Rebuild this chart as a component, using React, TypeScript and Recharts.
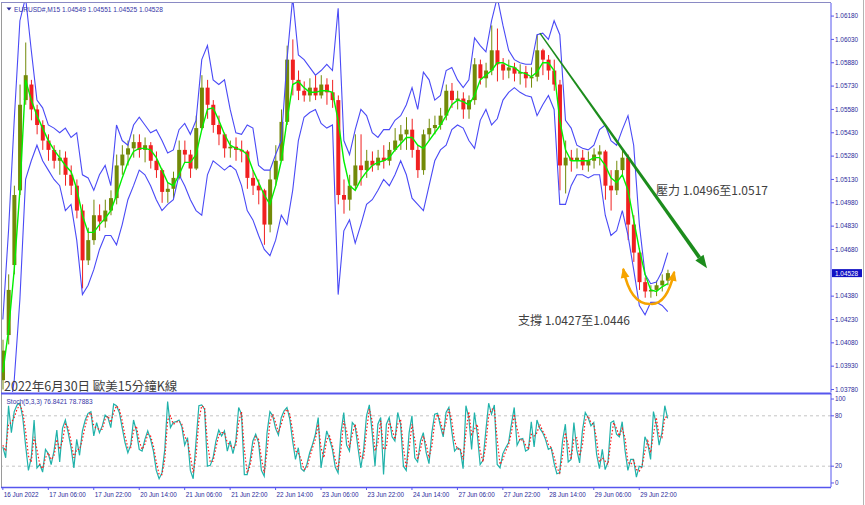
import React from 'react';
import { ComposedChart, Line, Bar, XAxis, YAxis, ReferenceLine } from 'recharts';

// EURUSD M15, sampled every 2 hours
const opens = [
  1.0384, 1.0413, 1.0458, 1.0506, 1.0564, 1.0574, 1.0558, 1.0548, 1.0538, 1.0532,
  1.0525, 1.0527, 1.0516, 1.0509, 1.0493, 1.0461, 1.0474, 1.049, 1.0486, 1.0493,
  1.0501, 1.0522, 1.0529, 1.0533, 1.0537, 1.0532, 1.0535, 1.0525, 1.0519, 1.0505,
  1.0507, 1.0514, 1.0532, 1.0529, 1.052, 1.0546, 1.0572, 1.0561, 1.0548, 1.0542,
  1.0533, 1.0534, 1.0532, 1.0531, 1.0514, 1.0509, 1.0506, 1.0484, 1.0513, 1.0525,
  1.055, 1.059, 1.0577, 1.057, 1.0567, 1.0572, 1.0567, 1.0574, 1.0569, 1.0564,
  1.0503, 1.05, 1.0509, 1.0522, 1.0519, 1.0525, 1.0522, 1.0527, 1.0525, 1.0532,
  1.0538, 1.0542, 1.0545, 1.0532, 1.0519, 1.0542, 1.0546, 1.0548, 1.0554, 1.057,
  1.0564, 1.0565, 1.0558, 1.0564, 1.0587, 1.0578, 1.0583, 1.0596, 1.0587, 1.0583,
  1.0585, 1.0581, 1.0582, 1.0578, 1.0579, 1.0596, 1.059, 1.0583, 1.0574, 1.0522,
  1.0527, 1.0525, 1.0527, 1.0522, 1.0525, 1.0529, 1.0531, 1.0509, 1.0506, 1.0519,
  1.0527, 1.0484, 1.0466, 1.0447, 1.0441, 1.0442, 1.0445, 1.0448,
];
const highs = [
  1.041, 1.0452, 1.0509, 1.0574, 1.0601, 1.0577, 1.0561, 1.0551, 1.0542, 1.0535,
  1.0532, 1.0531, 1.0522, 1.0513, 1.0497, 1.0482, 1.05, 1.0497, 1.05, 1.0506,
  1.0529, 1.0535, 1.0538, 1.0542, 1.0542, 1.054, 1.0537, 1.0531, 1.052, 1.0511,
  1.0518, 1.0538, 1.0538, 1.0532, 1.0554, 1.058, 1.0577, 1.0564, 1.0554, 1.0543,
  1.0538, 1.054, 1.0538, 1.0532, 1.0519, 1.0513, 1.0507, 1.0519, 1.0535, 1.0558,
  1.0599, 1.0603, 1.0583, 1.0576, 1.0578, 1.058, 1.058, 1.0578, 1.0577, 1.0567,
  1.0513, 1.0516, 1.0542, 1.0542, 1.0532, 1.0531, 1.0532, 1.0535, 1.0537, 1.0546,
  1.0548, 1.0553, 1.0552, 1.0535, 1.0545, 1.0552, 1.0554, 1.0559, 1.0574, 1.0575,
  1.057, 1.0569, 1.0567, 1.0591, 1.059, 1.0588, 1.0612, 1.061, 1.0591, 1.059,
  1.0588, 1.0587, 1.0586, 1.0585, 1.0606, 1.0597, 1.0593, 1.059, 1.0577, 1.0538,
  1.0532, 1.0533, 1.0532, 1.0531, 1.0533, 1.0535, 1.0532, 1.0519, 1.0525, 1.0532,
  1.0529, 1.049, 1.0469, 1.045, 1.0445, 1.0448, 1.0452, 1.0455,
];
const lows = [
  1.0378, 1.0407, 1.0452, 1.0503, 1.0561, 1.0551, 1.0542, 1.0532, 1.0525, 1.052,
  1.0516, 1.0509, 1.0503, 1.0488, 1.0443, 1.0458, 1.0471, 1.048, 1.0482, 1.049,
  1.0497, 1.0516, 1.0522, 1.0527, 1.0527, 1.0524, 1.052, 1.0514, 1.0498, 1.0498,
  1.0501, 1.0513, 1.0524, 1.0514, 1.0519, 1.0545, 1.0552, 1.0543, 1.0535, 1.0527,
  1.0527, 1.0525, 1.0524, 1.0507, 1.0503, 1.0497, 1.0471, 1.0479, 1.0509, 1.0525,
  1.0548, 1.0567, 1.0564, 1.0563, 1.0563, 1.0564, 1.0565, 1.0561, 1.0559, 1.0497,
  1.0491, 1.0493, 1.0506, 1.0509, 1.0514, 1.0518, 1.0519, 1.052, 1.0522, 1.0531,
  1.0532, 1.0532, 1.0527, 1.0514, 1.0516, 1.0538, 1.0542, 1.0545, 1.0551, 1.0559,
  1.0558, 1.0552, 1.0552, 1.0561, 1.0574, 1.0572, 1.058, 1.0576, 1.0577, 1.0578,
  1.0576, 1.0574, 1.0572, 1.0572, 1.0576, 1.058, 1.0577, 1.057, 1.0506, 1.0504,
  1.0518, 1.052, 1.0519, 1.0518, 1.052, 1.0522, 1.05, 1.0493, 1.0503, 1.0516,
  1.0474, 1.046, 1.0442, 1.0437, 1.0437, 1.0438, 1.0441, 1.0445,
];
const closes = [
  1.0403, 1.0442, 1.0503, 1.0561, 1.058, 1.0558, 1.0548, 1.0538, 1.0532, 1.0525,
  1.0527, 1.0516, 1.0509, 1.0493, 1.0461, 1.0474, 1.049, 1.0486, 1.0493, 1.0501,
  1.0522, 1.0529, 1.0533, 1.0537, 1.0532, 1.0535, 1.0525, 1.0519, 1.0505, 1.0507,
  1.0514, 1.0532, 1.0529, 1.052, 1.0546, 1.0572, 1.0561, 1.0548, 1.0542, 1.0533,
  1.0534, 1.0532, 1.0531, 1.0514, 1.0509, 1.0506, 1.0484, 1.0513, 1.0525, 1.055,
  1.059, 1.0577, 1.057, 1.0567, 1.0572, 1.0567, 1.0574, 1.0569, 1.0564, 1.0503,
  1.05, 1.0509, 1.0522, 1.0519, 1.0525, 1.0522, 1.0527, 1.0525, 1.0532, 1.0538,
  1.0542, 1.0545, 1.0532, 1.0519, 1.0542, 1.0546, 1.0548, 1.0554, 1.057, 1.0564,
  1.0565, 1.0558, 1.0564, 1.0587, 1.0578, 1.0583, 1.0596, 1.0587, 1.0583, 1.0585,
  1.0581, 1.0582, 1.0578, 1.0579, 1.0596, 1.059, 1.0583, 1.0574, 1.0522, 1.0527,
  1.0525, 1.0527, 1.0522, 1.0525, 1.0529, 1.0531, 1.0509, 1.0506, 1.0519, 1.0527,
  1.0484, 1.0466, 1.0447, 1.0441, 1.0442, 1.0445, 1.0448, 1.04528,
];
const maLine = [
  1.0389, 1.0416, 1.0455, 1.0506, 1.0577, 1.0564, 1.0554, 1.0546, 1.0538, 1.0532,
  1.0527, 1.0522, 1.0518, 1.0507, 1.049, 1.0479, 1.0479, 1.0484, 1.0488, 1.0493,
  1.0503, 1.0514, 1.0524, 1.0531, 1.0533, 1.0533, 1.0532, 1.0527, 1.0519, 1.0511,
  1.0509, 1.0516, 1.0524, 1.0524, 1.0529, 1.0545, 1.0558, 1.0559, 1.0551, 1.0542,
  1.0535, 1.0533, 1.0532, 1.0529, 1.0519, 1.0511, 1.0503, 1.0497, 1.0509, 1.0525,
  1.0551, 1.0574, 1.0576, 1.0572, 1.0569, 1.0569, 1.057, 1.057, 1.0569, 1.0551,
  1.0525, 1.0509, 1.0506, 1.0513, 1.0518, 1.0522, 1.0524, 1.0525, 1.0527, 1.0532,
  1.0536, 1.054, 1.054, 1.0535, 1.0533, 1.0538, 1.0543, 1.0548, 1.0554, 1.0561,
  1.0564, 1.0563, 1.0561, 1.0567, 1.0577, 1.058, 1.0583, 1.0588, 1.0588, 1.0586,
  1.0585, 1.0582, 1.0581, 1.0579, 1.0582, 1.0588, 1.0588, 1.0583, 1.0551, 1.0532,
  1.0525, 1.0525, 1.0525, 1.0525, 1.0527, 1.0527, 1.0522, 1.0514, 1.0511, 1.0516,
  1.0506, 1.0487, 1.0468, 1.0452, 1.0442, 1.0441, 1.0444, 1.0446,
];
const upperBand = [
  1.0423, 1.048, 1.0551, 1.0615, 1.063, 1.0596, 1.0564, 1.0559, 1.0548, 1.0546,
  1.0543, 1.0546, 1.054, 1.0543, 1.0516, 1.0514, 1.0506, 1.0516, 1.0522, 1.0509,
  1.0548, 1.0538, 1.0535, 1.0548, 1.0553, 1.0548, 1.0543, 1.0545, 1.0538, 1.053,
  1.0532, 1.0545, 1.0549, 1.0542, 1.0551, 1.059, 1.0599, 1.0577, 1.0574, 1.0577,
  1.0558, 1.0543, 1.0542, 1.0548, 1.0546, 1.0522, 1.0519, 1.0519, 1.0529, 1.0538,
  1.059, 1.063, 1.0593, 1.059, 1.0585, 1.058, 1.0583, 1.0587, 1.0583, 1.0623,
  1.0538, 1.0529, 1.0545, 1.0558, 1.0554, 1.0543, 1.054, 1.0545, 1.0545, 1.0551,
  1.0554, 1.0561, 1.0572, 1.0558, 1.0582, 1.0577, 1.0564, 1.0567, 1.0583, 1.0585,
  1.0577, 1.0572, 1.0577, 1.0604, 1.0599, 1.0595, 1.0615, 1.063, 1.0612, 1.0596,
  1.059, 1.0588, 1.0587, 1.0587, 1.0606, 1.0607, 1.0603, 1.0615, 1.0606, 1.0551,
  1.0546, 1.0535, 1.0533, 1.0532, 1.0535, 1.0545, 1.0548, 1.0538, 1.0535, 1.0545,
  1.0554, 1.0535, 1.0484, 1.0452, 1.0446, 1.0447, 1.0454, 1.0466,
];
const lowerBand = [
  1.0346, 1.0358, 1.0384, 1.0436, 1.0513, 1.0525, 1.0535, 1.0525, 1.0519, 1.0513,
  1.0509, 1.0493, 1.0497, 1.0474, 1.0439, 1.0445, 1.0455, 1.0468, 1.0477, 1.0477,
  1.0471, 1.0484, 1.05, 1.0509, 1.0519, 1.0516, 1.0509, 1.05, 1.0493, 1.0497,
  1.05, 1.0516, 1.0509, 1.05, 1.0493, 1.049, 1.0516, 1.0525, 1.0522, 1.0519,
  1.0522, 1.0519, 1.0509, 1.0493, 1.0487, 1.0477, 1.0468, 1.0464, 1.0474, 1.049,
  1.0484, 1.0506, 1.0538, 1.0553, 1.0556, 1.0558, 1.0549, 1.0546, 1.0548, 1.0439,
  1.048, 1.0487, 1.0472, 1.0484, 1.0497, 1.05, 1.0506, 1.0513, 1.0509, 1.0516,
  1.0525, 1.0516, 1.0501, 1.0497, 1.0493, 1.0509, 1.0525, 1.0532, 1.0535, 1.0545,
  1.0548, 1.0546, 1.0538, 1.0533, 1.0551, 1.0558, 1.0548, 1.0552, 1.0564, 1.0569,
  1.0572, 1.0569, 1.0567, 1.0566, 1.0554, 1.0561, 1.0567, 1.0558, 1.0497, 1.0497,
  1.0509, 1.0516, 1.0516, 1.0514, 1.0516, 1.0516, 1.049, 1.0477, 1.048, 1.0493,
  1.0477, 1.0455, 1.0432, 1.0426, 1.0434, 1.0434, 1.0432, 1.0428,
];

// Stoch(5,3,3), sampled hourly
const stochK = [
  43, 30, 92, 60, 85, 93, 95, 78, 45, 15, 30, 75, 18, 22, 13, 40, 35, 22, 38, 63,
  25, 65, 75, 60, 42, 18, 52, 33, 62, 75, 83, 85, 56, 72, 60, 68, 81, 78, 66, 94,
  92, 84, 66, 48, 36, 45, 75, 62, 40, 38, 52, 62, 52, 38, 15, 5, 12, 40, 97, 66,
  72, 73, 75, 67, 45, 54, 15, 5, 50, 92, 93, 88, 20, 21, 30, 50, 63, 56, 62, 38,
  50, 35, 50, 90, 82, 10, 10, 26, 50, 58, 48, 15, 8, 60, 85, 80, 65, 57, 78, 86,
  90, 76, 50, 28, 42, 17, 14, 22, 36, 46, 58, 78, 18, 40, 62, 52, 40, 19, 12, 60,
  84, 45, 38, 72, 68, 42, 18, 40, 80, 93, 60, 20, 70, 78, 10, 70, 78, 55, 50, 84,
  70, 20, 15, 60, 80, 30, 25, 50, 60, 36, 23, 60, 82, 83, 68, 55, 84, 90, 62, 38,
  42, 40, 17, 92, 78, 40, 84, 58, 22, 27, 62, 95, 82, 93, 22, 18, 35, 42, 48, 70,
  90, 45, 52, 53, 38, 40, 73, 43, 75, 65, 60, 52, 40, 42, 24, 11, 12, 50, 70, 25,
  28, 72, 40, 24, 62, 84, 78, 68, 72, 34, 17, 40, 16, 25, 72, 74, 58, 55, 73, 39,
  15, 28, 28, 7, 20, 19, 55, 47, 28, 85, 70, 45, 60, 92, 77,
];
const stochD = [
  45, 38, 70, 72, 78, 88, 93, 85, 62, 32, 25, 55, 40, 22, 17, 30, 36, 28, 32, 52,
  40, 50, 70, 66, 50, 30, 40, 40, 52, 68, 80, 84, 68, 65, 64, 64, 76, 80, 72, 84,
  92, 88, 74, 56, 42, 42, 62, 68, 50, 40, 46, 58, 56, 44, 25, 10, 10, 28, 75, 80,
  70, 72, 74, 70, 55, 50, 32, 12, 32, 75, 92, 90, 48, 25, 26, 42, 57, 60, 60, 48,
  45, 42, 44, 72, 85, 40, 12, 20, 40, 55, 52, 30, 12, 38, 72, 82, 72, 60, 70, 82,
  88, 82, 62, 38, 36, 28, 16, 18, 30, 42, 52, 70, 42, 30, 52, 56, 45, 28, 16, 40,
  74, 62, 42, 58, 70, 54, 30, 30, 62, 88, 74, 38, 48, 74, 40, 42, 74, 64, 52, 70,
  76, 42, 18, 40, 70, 52, 28, 40, 56, 46, 30, 44, 72, 82, 74, 60, 72, 88, 75, 50,
  40, 41, 28, 60, 85, 58, 64, 70, 38, 25, 45, 80, 88, 88, 52, 22, 28, 38, 45, 60,
  82, 65, 50, 52, 45, 40, 58, 56, 60, 70, 62, 56, 46, 42, 32, 18, 12, 32, 60, 45,
  28, 52, 54, 32, 45, 74, 80, 72, 70, 52, 25, 30, 26, 22, 50, 72, 65, 56, 65, 54,
  25, 22, 27, 16, 14, 20, 38, 50, 36, 58, 78, 56, 54, 78, 79,
];

const priceTicks = [
  1.0378, 1.0393, 1.0408, 1.0423, 1.0438, 1.0468, 1.0483, 1.0498, 1.0513,
  1.0528, 1.0543, 1.0558, 1.0573, 1.0588, 1.0603, 1.0618,
];
const stochTicks = [0, 20, 80, 100];
const stochLevels = [20, 80];
const timeTickHours = [0, 16, 32, 48, 64, 80, 96, 112, 128, 144, 160, 176, 192, 208, 224];
const timeLabels = [
  '16 Jun 2022', '17 Jun 06:00', '17 Jun 22:00', '20 Jun 14:00', '21 Jun 06:00',
  '21 Jun 22:00', '22 Jun 14:00', '23 Jun 06:00', '23 Jun 22:00', '24 Jun 14:00',
  '27 Jun 06:00', '27 Jun 22:00', '28 Jun 14:00', '29 Jun 06:00', '29 Jun 22:00',
];
const currentPrice = 1.04528;
const lastBar = '1.04549 1.04551 1.04525 1.04528';
const lastStoch = '76.8421 78.7883';

// hand-drawn annotations, in (bar index, price)
const trendLine = [{ x: 94.5, y: 1.0607 }, { x: 123.9, y: 1.0456 }];
const arcLeft = [{ x: 109.2, y: 1.0455 }, { x: 113.8, y: 1.0433 }];
const arcRight = [{ x: 114.2, y: 1.0433 }, { x: 118.1, y: 1.0453 }];

const BULL = '#728a08';
const BEAR = '#f02020';
const FRAME = '#5656ee';
const AXIS_TEXT = '#2a2a9a';
const FONT = '"Liberation Sans", Arial, sans-serif';
const CJK = '"Noto Sans CJK TC", "Noto Sans CJK SC", sans-serif';

const rows = closes.map((close, i) => ({
  i,
  open: opens[i],
  high: highs[i],
  low: lows[i],
  close,
  ma: maLine[i],
  upper: upperBand[i],
  lower: lowerBand[i],
}));
const stochRows = stochK.map((k, j) => ({ j, k, d: stochD[j] }));

const Candle = (props: any) => {
  const { x, y, width, height, payload } = props;
  if (!payload || height == null) return null;
  const { open, close, high, low } = payload;
  const range = high - low || 1;
  const toY = (v: number) => y + ((high - v) / range) * height;
  const color = close >= open ? BULL : BEAR;
  const top = toY(Math.max(open, close));
  const bottom = toY(Math.min(open, close));
  const cx = x + width / 2;
  return (
    <g>
      <line x1={cx} x2={cx} y1={y} y2={y + height} stroke={color} strokeWidth={1} />
      <rect x={x} y={top} width={width} height={Math.max(1, bottom - top)} fill={color} />
    </g>
  );
};

const TrendArrow = (props: any) => {
  const { x1, y1, x2, y2 } = props;
  const dx = x2 - x1;
  const dy = y2 - y1;
  const len = Math.hypot(dx, dy) || 1;
  const ux = dx / len;
  const uy = dy / len;
  const nx = -uy;
  const ny = ux;
  const head = 13;
  const hw = 5;
  const bx = x2 - ux * head;
  const by = y2 - uy * head;
  const w0 = 0.7;
  const w1 = 1.9;
  const shaft = `M${x1 + nx * w0},${y1 + ny * w0} L${bx + nx * w1},${by + ny * w1} L${bx - nx * w1},${by - ny * w1} L${x1 - nx * w0},${y1 - ny * w0} Z`;
  const tip = `M${x2},${y2} L${bx + nx * hw},${by + ny * hw} L${bx - nx * hw},${by - ny * hw} Z`;
  return (
    <g>
      <path d={shaft} fill="#1c8c1c" />
      <path d={tip} fill="#1c8c1c" />
    </g>
  );
};

const arrowHead = (tx: number, ty: number, fx: number, fy: number, size: number) => {
  const len = Math.hypot(tx - fx, ty - fy) || 1;
  const ux = (tx - fx) / len;
  const uy = (ty - fy) / len;
  const bx = tx - ux * size;
  const by = ty - uy * size;
  const w = size * 0.55;
  return `M${tx + ux * 2},${ty + uy * 2} L${bx - uy * w},${by + ux * w} L${bx + uy * w},${by - ux * w} Z`;
};

const makeArc = (side: 'left' | 'right') => (props: any) => {
  const { x1, y1, x2, y2 } = props;
  const cx = side === 'left' ? x1 + (x2 - x1) * 0.27 : x1 + (x2 - x1) * 0.68;
  const cy = side === 'left' ? y2 : y1;
  const head =
    side === 'left' ? arrowHead(x1, y1, cx, cy, 8) : arrowHead(x2, y2, cx, cy, 8);
  return (
    <g>
      <path
        d={`M${x1},${y1} Q${cx},${cy} ${x2},${y2}`}
        fill="none"
        stroke="#f6a400"
        strokeWidth={2.6}
        strokeLinecap="round"
      />
      <path d={head} fill="#f6a400" />
    </g>
  );
};

const PriceBox = (props: any) => {
  const { viewBox } = props;
  if (!viewBox) return null;
  const x = viewBox.x + viewBox.width + 1;
  const y = viewBox.y;
  return (
    <g>
      <rect x={x} y={y - 4} width={30} height={8} fill="#1212c4" />
      <text x={x + 3} y={y + 2.4} fill="#ffffff" fontSize={6.4} fontFamily={FONT}>
        {currentPrice.toFixed(5)}
      </text>
    </g>
  );
};

const TimeTick = (props: any) => {
  const { x, y, payload } = props;
  const idx = timeTickHours.indexOf(payload.value);
  return (
    <text x={x + 1} y={y + 6} fill={AXIS_TEXT} fontSize={6.3} fontFamily={FONT} textAnchor="start">
      {idx >= 0 ? timeLabels[idx] : ''}
    </text>
  );
};

export default function App() {
  return (
    <div
      style={{
        position: 'absolute',
        left: 0,
        top: 0,
        width: 865,
        height: 505,
        background: '#ffffff',
        overflow: 'hidden',
      }}
    >
      <div style={{ position: 'absolute', left: 0, top: 0 }}>
        <ComposedChart width={865} height={393} data={rows} margin={{ top: 3, right: 0, bottom: 1, left: 2 }}>
          <XAxis dataKey="i" type="number" domain={[-0.15, 145.72]} allowDataOverflow hide />
          <YAxis
            orientation="right"
            width={34}
            domain={[1.03764, 1.06264]}
            allowDataOverflow
            ticks={priceTicks}
            interval={0}
            tickFormatter={(v: number) => v.toFixed(5)}
            tick={{ fill: AXIS_TEXT, fontSize: 6.4, fontFamily: FONT }}
            tickSize={3}
            tickMargin={1}
            axisLine={{ stroke: FRAME }}
            tickLine={{ stroke: FRAME }}
          />
          <Line dataKey="upper" type="linear" stroke="#4a4af6" strokeWidth={1.1} dot={false} isAnimationActive={false} />
          <Line dataKey="lower" type="linear" stroke="#4a4af6" strokeWidth={1.1} dot={false} isAnimationActive={false} />
          <Bar
            dataKey={(d: any) => [d.low, d.high]}
            barSize={4}
            shape={Candle}
            isAnimationActive={false}
          />
          <Line dataKey="ma" type="linear" stroke="#00f000" strokeWidth={1.4} dot={false} isAnimationActive={false} />
          <ReferenceLine
            segment={trendLine}
            shape={TrendArrow}
          />
          <ReferenceLine segment={arcLeft} shape={makeArc('left')} />
          <ReferenceLine segment={arcRight} shape={makeArc('right')} />
          <ReferenceLine y={currentPrice} stroke="none" strokeOpacity={0} label={<PriceBox />} />
        </ComposedChart>
      </div>

      <div style={{ position: 'absolute', left: 0, top: 393 }}>
        <ComposedChart width={865} height={112} data={stochRows} margin={{ top: 1, right: 0, bottom: 0, left: 2 }}>
          <XAxis
            dataKey="j"
            type="number"
            domain={[-0.3, 291.5]}
            allowDataOverflow
            ticks={timeTickHours}
            interval={0}
            height={18}
            tick={<TimeTick />}
            tickSize={3}
            tickMargin={1}
            axisLine={false}
            tickLine={{ stroke: FRAME }}
          />
          <YAxis
            orientation="right"
            width={34}
            domain={[-4.8, 106]}
            allowDataOverflow
            ticks={stochTicks}
            interval={0}
            tick={{ fill: AXIS_TEXT, fontSize: 6.4, fontFamily: FONT }}
            tickSize={3}
            tickMargin={1}
            axisLine={{ stroke: FRAME }}
            tickLine={{ stroke: FRAME }}
          />
          {stochLevels.map((lv) => (
            <ReferenceLine key={lv} y={lv} stroke="#c4c4c4" strokeDasharray="3 3" />
          ))}
          <Line dataKey="k" type="linear" stroke="#20b2aa" strokeWidth={1.2} dot={false} isAnimationActive={false} />
          <Line
            dataKey="d"
            type="linear"
            stroke="#ff1a1a"
            strokeWidth={1.2}
            strokeDasharray="1.5 2"
            dot={false}
            isAnimationActive={false}
          />
        </ComposedChart>
      </div>

      <svg
        width={865}
        height={505}
        style={{ position: 'absolute', left: 0, top: 0, pointerEvents: 'none' }}
      >
        {/* panel frames */}
        <line x1={1.5} x2={1.5} y1={2} y2={488} stroke="#9a9a9a" strokeWidth={1} />
        <line x1={1} x2={831} y1={2.5} y2={2.5} stroke="#8a8ac4" strokeWidth={1} />
        <rect x={1} y={392.5} width={830.5} height={2} fill={FRAME} />
        <line x1={1} x2={831} y1={487.5} y2={487.5} stroke={FRAME} strokeWidth={1.4} />
        <line x1={863.5} x2={863.5} y1={0} y2={505} stroke="#b4b4b4" strokeWidth={1} />

        {/* headers */}
        <path d="M6.5,7.5 L11.5,7.5 L9,10.5 Z" fill="#2a2a9a" />
        <text x={14} y={11.6} fill="#3434a6" fontSize={6.6} fontFamily={FONT}>
          {'EURUSD#,M15  ' + lastBar}
        </text>
        <text x={6.5} y={404} fill="#3434a6" fontSize={6.5} fontFamily={FONT}>
          {'Stoch(5,3,3) ' + lastStoch}
        </text>

        {/* annotations */}
        <text x={4} y={390.5} fill="#3c3c3c" fontSize={12.5} fontFamily={CJK}>
          2022年6月30日 歐美15分鐘K線
        </text>
        <text x={656} y={194.5} fill="#404040" fontSize={12} fontFamily={CJK}>
          壓力 1.0496至1.0517
        </text>
        <text x={518} y={324.5} fill="#404040" fontSize={12} fontFamily={CJK}>
          支撐 1.0427至1.0446
        </text>
      </svg>
    </div>
  );
}
